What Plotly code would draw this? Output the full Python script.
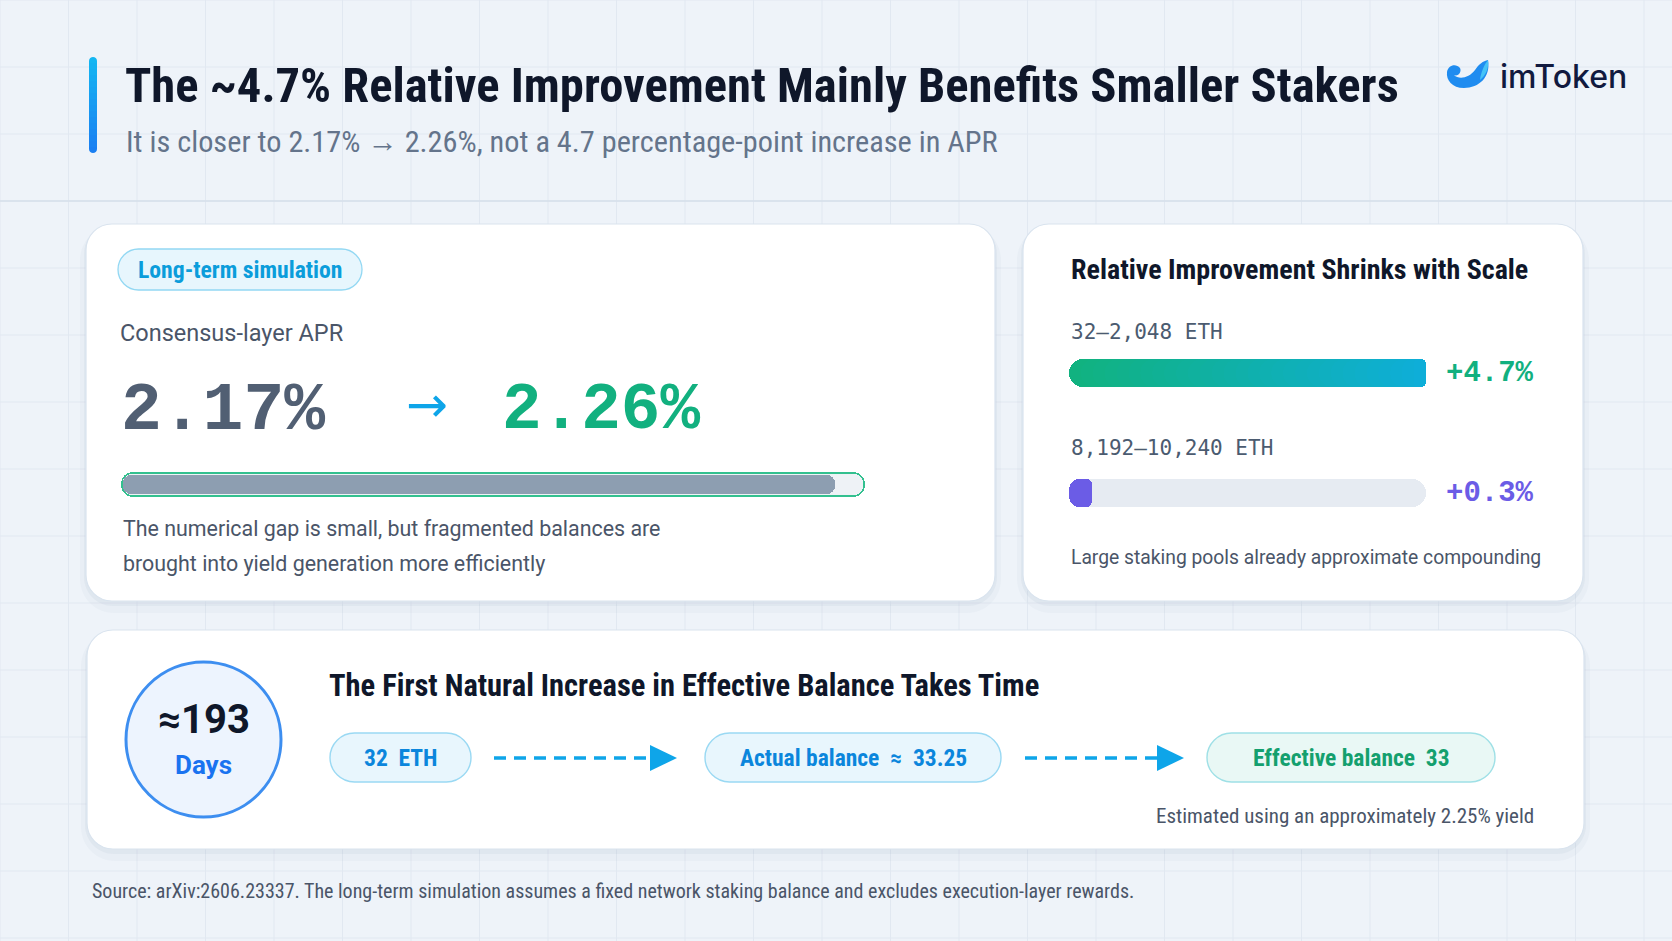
import plotly.graph_objects as go

W, H = 1672, 941

# ---------------- data ----------------
improvement_headline = 4.7
apr_before = 2.17
apr_after = 2.26
scale_ranges = ["32–2,048 ETH", "8,192–10,240 ETH"]
scale_improvement = [4.7, 0.3]
days_first_increase = 193
start_balance = 32
actual_balance = 33.25
effective_balance = 33
assumed_yield = 2.25
source_id = "arXiv:2606.23337"

# ---------------- style ----------------
BG = "#eef3f9"
GRID = "#e1e8f1"
DARK = "#0f172a"
BODY = "#4a5568"
SUB = "#64748b"
CYAN = "#0ea5e9"
GREEN = "#12b07f"
PURPLE = "#6b5ce6"
SLATE = "#4b5b70"

NARROW = "Liberation Sans Narrow, Arial Narrow, Roboto Condensed, Roboto, sans-serif"
SANS = "Roboto, Noto Sans, sans-serif"
MONO = "DejaVu Sans Mono, Liberation Mono, monospace"
MONO_BIG = "Liberation Mono, DejaVu Sans Mono, monospace"

shapes = []
annotations = []


def rrect(x0, y0, x1, y1, r):
    k = 0.4477 * r
    return (f"M{x0+r},{y0} L{x1-r},{y0} C{x1-k},{y0} {x1},{y0+k} {x1},{y0+r} "
            f"L{x1},{y1-r} C{x1},{y1-k} {x1-k},{y1} {x1-r},{y1} "
            f"L{x0+r},{y1} C{x0+k},{y1} {x0},{y1-k} {x0},{y1-r} "
            f"L{x0},{y0+r} C{x0},{y0+k} {x0+k},{y0} {x0+r},{y0} Z")


def path(p, fill, line_color=None, line_width=0):
    shapes.append(dict(type="path", path=p, xref="x", yref="y", layer="below",
                       fillcolor=fill,
                       line=dict(color=line_color or "rgba(0,0,0,0)", width=line_width)))


def text(x, y, s, size, color, family=SANS, xanchor="left", weight="normal"):
    annotations.append(dict(x=x, y=y, xref="x", yref="y", text=s, showarrow=False,
                            xanchor=xanchor, yanchor="middle",
                            font=dict(size=size, color=color, family=family, weight=weight)))


def mix(c0, c1, t):
    a = [int(c0[i:i+2], 16) for i in (1, 3, 5)]
    b = [int(c1[i:i+2], 16) for i in (1, 3, 5)]
    return "#" + "".join(f"{round(a[i] + (b[i]-a[i])*t):02x}" for i in range(3))


# background grid
gx = 0.0
while gx <= W:
    shapes.append(dict(type="line", x0=gx, x1=gx, y0=0, y1=H, xref="x", yref="y",
                       layer="below", line=dict(color=GRID, width=1)))
    gx += 68.5
gy = 0.0
while gy <= H:
    shapes.append(dict(type="line", x0=0, x1=W, y0=gy, y1=gy, xref="x", yref="y",
                       layer="below", line=dict(color=GRID, width=1)))
    gy += 67
shapes.append(dict(type="line", x0=0, x1=W, y0=201, y1=201, xref="x", yref="y",
                   layer="below", line=dict(color="#d6dfea", width=1.5)))

# header accent bar (vertical gradient)
nb = 16
for i in range(nb):
    y0 = 57 + (153 - 57) * i / nb
    y1 = 57 + (153 - 57) * (i + 1) / nb + 0.6
    c = mix("#14b6f2", "#1a7ff2", i / (nb - 1))
    if i == 0:
        p = f"M89,{y1} L89,61 C89,58.5 91,57 93,57 C95,57 97,58.5 97,61 L97,{y1} Z"
    elif i == nb - 1:
        p = f"M89,{y0} L89,149 C89,151.5 91,153 93,153 C95,153 97,151.5 97,149 L97,{y0} Z"
    else:
        p = f"M89,{y0} L97,{y0} L97,{y1} L89,{y1} Z"
    path(p, c)

# logo icon
path("M1488,60 C1491,77 1479,88 1464,88 C1452,88 1446,80 1447,72 "
     "C1448,65 1456,63 1460,68 C1462,72 1458,77 1454,75 "
     "C1459,80 1469,78 1475,70 C1479,64 1483,61 1488,60 Z", "#1f8cf0")
path("M1488,60 C1489,68 1486,75 1480,80 C1481,72 1484,65 1488,60 Z", "#45c3f6")

# cards with soft shadow
cards = [(86, 224, 995, 601, 26), (1023, 224, 1583, 601, 26), (87, 630, 1584, 849, 26)]
for (x0, y0, x1, y1, r) in cards:
    path(rrect(x0 - 6, y0 + 2, x1 + 6, y1 + 12, r + 8), "rgba(120,140,170,0.045)")
    path(rrect(x0 - 2, y0 + 1, x1 + 2, y1 + 5, r + 3), "rgba(120,140,170,0.07)")
    path(rrect(x0, y0, x1, y1, r), "#ffffff", "#d9e3ee", 1.2)

# ---------------- header ----------------
text(123, 85, f"The ~{improvement_headline:.1f}% Relative Improvement Mainly Benefits Smaller Stakers",
     48.6, DARK, NARROW, weight="bold")
text(124, 141, f"It is closer to {apr_before:.2f}% → {apr_after:.2f}%, not a "
     f"{improvement_headline:.1f} percentage-point increase in APR", 30.3, SUB, NARROW)
text(1498, 76, "imToken", 32, "#111a3f", "Inter, Roboto, sans-serif", weight=500)

# ---------------- card 1 ----------------
path(rrect(118, 249, 362, 290, 20.5), "#e7f6fd", "#93d8f3", 1.3)
text(240, 269.5, "Long-term simulation", 23.7, "#0b9ddb", NARROW, xanchor="center", weight="bold")
text(118, 333, "Consensus-layer APR", 23.5, BODY, SANS)
text(119, 410, f"{apr_before:.2f}%", 68, "#515f73", MONO_BIG, weight="bold")
text(427, 405, "→", 50, CYAN, "DejaVu Sans, sans-serif", xanchor="center")
text(500, 410, f"{apr_after:.2f}%", 66, GREEN, MONO_BIG, weight="bold")
text(121, 528, "The numerical gap is small, but fragmented balances are", 21.4, BODY, SANS)
text(121, 563, "brought into yield generation more efficiently", 21.4, BODY, SANS)

# ---------------- card 2 ----------------
text(1069, 269, "Relative Improvement Shrinks with Scale", 28, DARK, NARROW, weight="bold")
row_y = [373, 493]
label_y = [332, 448]
value_colors = [GREEN, PURPLE]
for lab, v, ly, ry, c in zip(scale_ranges, scale_improvement, label_y, row_y, value_colors):
    text(1069, ly, lab, 21, SLATE, MONO)
    text(1444, ry, f"+{v:.1f}%", 29, c, MONO_BIG, weight="bold")
text(1069, 557, "Large staking pools already approximate compounding", 19.3, BODY, SANS)

# ---------------- card 3 ----------------
shapes.append(dict(type="circle", x0=126, x1=281, y0=662, y1=817, xref="x", yref="y",
                   layer="below", fillcolor="#edf4fe", line=dict(color="#3d8ef0", width=3)))
text(203.5, 719, f"≈{days_first_increase}", 40, DARK, SANS, xanchor="center", weight="bold")
text(203.5, 765, "Days", 26, "#1a73f0", SANS, xanchor="center", weight="bold")
text(327, 685, "The First Natural Increase in Effective Balance Takes Time", 30.5, DARK, NARROW,
     weight="bold")

flow_labels = [f"{start_balance}  ETH",
               f"Actual balance  ≈  {actual_balance:.2f}",
               f"Effective balance  {effective_balance}"]
flow_boxes = [(330, 471), (705, 1001), (1207, 1495)]
flow_fill = ["#e8f6fd", "#e8f6fd", "#e9f8f5"]
flow_line = ["#9ad9f3", "#9ad9f3", "#9fe0e6"]
flow_text = ["#0b86dc", "#0b86dc", "#14a06e"]
for lab, (bx0, bx1), f, lc, tc in zip(flow_labels, flow_boxes, flow_fill, flow_line, flow_text):
    path(rrect(bx0, 733, bx1, 782, 24.5), f, lc, 1.4)
    text((bx0 + bx1) / 2, 758, lab, 23.5, tc, NARROW, xanchor="center", weight="bold")
for (ax0, ax1) in [(494, 651), (1025, 1158)]:
    shapes.append(dict(type="line", x0=ax0, x1=ax1, y0=758, y1=758, xref="x", yref="y",
                       layer="below", line=dict(color=CYAN, width=3.5, dash="12px,8px")))
    path(f"M{ax1-1},745 L{ax1+26},758 L{ax1-1},771 Z", CYAN)
text(1536, 816, f"Estimated using an approximately {assumed_yield:.2f}% yield", 21, BODY, NARROW,
     xanchor="right")

# ---------------- footer ----------------
text(90, 891, f"Source: {source_id}. The long-term simulation assumes a fixed network staking "
     "balance and excludes execution-layer rewards.", 20, BODY, NARROW)

# ---------------- data bars ----------------
traces = []


def pill_bar(xa, ya, y, v0, v1, color, width):
    # full-length bar growing leftwards (round left end) + right half growing rightwards (round right end)
    mid = (v0 + v1) / 2
    return go.Bar(orientation="h", y=[y, y], base=[v1, mid], x=[v0 - v1, v1 - mid],
                  width=[width, width],
                  marker=dict(color=color, cornerradius="50%", line=dict(width=0)),
                  xaxis=xa, yaxis=ya, hoverinfo="skip", showlegend=False)


# card 1 progress bar: 2.17 within 2.26
pad1 = apr_after * 1.6 / 744
traces.append(pill_bar("x2", "y2", 0, 0, apr_after, "#33c08f", 1.0))
traces.append(pill_bar("x2", "y2", 0, pad1, apr_after - pad1, "#eef2f6", 0.87))
traces.append(pill_bar("x2", "y2", 0, pad1, apr_before, "#8d9eb1", 0.78))

# card 2 relative improvement bars
vmax = max(scale_improvement)
for i in range(len(scale_improvement)):
    traces.append(pill_bar("x3", "y3", i, 0, vmax, "#e6ebf2", 0.235))
# gradient bar (first row)
v = scale_improvement[0]
traces.append(go.Bar(orientation="h", y=[0], base=[v], x=[-v], width=[0.235],
                     marker=dict(color="#11b280", cornerradius="50%", line=dict(width=0)),
                     xaxis="x3", yaxis="y3", hoverinfo="skip", showlegend=False))
N = 30
traces.append(go.Bar(orientation="h", y=[0] * (N - 1),
                     base=[v * i / N for i in range(1, N)],
                     x=[v - v * i / N for i in range(1, N)],
                     width=[0.235] * (N - 1),
                     marker=dict(color=[mix("#11b280", "#0eaed8", i / (N - 1)) for i in range(1, N)],
                                 cornerradius="50%", line=dict(width=0)),
                     xaxis="x3", yaxis="y3", hoverinfo="skip", showlegend=False))
traces.append(pill_bar("x3", "y3", 1, 0, scale_improvement[1], PURPLE, 0.235))

fig = go.Figure(traces)

hidden = dict(visible=False, showgrid=False, zeroline=False, fixedrange=True)
fig.update_layout(
    width=W, height=H, margin=dict(l=0, r=0, t=0, b=0, pad=0),
    paper_bgcolor=BG, plot_bgcolor="rgba(0,0,0,0)",
    showlegend=False, barmode="overlay", bargap=0,
    xaxis=dict(range=[0, W], domain=[0, 1], **hidden),
    yaxis=dict(range=[H, 0], domain=[0, 1], **hidden),
    xaxis2=dict(range=[0, apr_after], domain=[121 / W, 865 / W], anchor="y2", **hidden),
    yaxis2=dict(range=[-0.5, 0.5], domain=[1 - 497 / H, 1 - 472 / H], anchor="x2", **hidden),
    xaxis3=dict(range=[0, vmax], domain=[1069 / W, 1426 / W], anchor="y3", **hidden),
    yaxis3=dict(range=[1.5, -0.5], domain=[1 - 553 / H, 1 - 313 / H], anchor="x3", **hidden),
    shapes=shapes, annotations=annotations,
)

fig.write_html("out.html", config={"displayModeBar": False, "staticPlot": True},
               post_script="document.body.style.margin='0';document.body.style.overflow='hidden';")
